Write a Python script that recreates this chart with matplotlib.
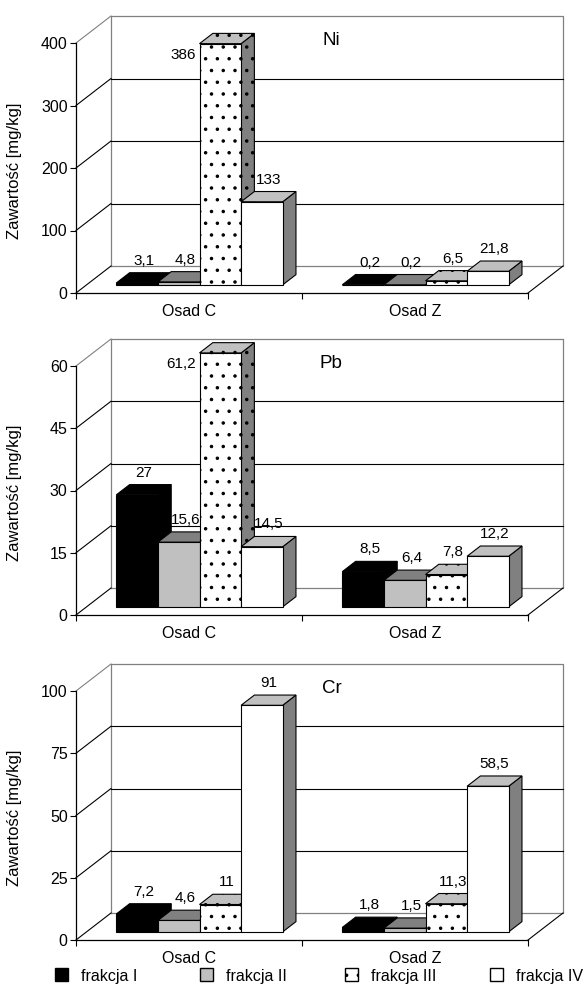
import matplotlib
matplotlib.use('Agg')
import matplotlib.pyplot as plt
from matplotlib.patches import Polygon, Rectangle

# the figure is rendered at a higher dpi so the dot hatch gets the sparser
# Excel-like spacing; all sizes in points are scaled back with S
DPI = 141.4
S = 100 / DPI

plt.rcParams['font.family'] = ['Liberation Sans', 'DejaVu Sans']
plt.rcParams['hatch.linewidth'] = 0.8 * S

# --- data ---
categories = ['Osad C', 'Osad Z']
series = ['frakcja I', 'frakcja II', 'frakcja III', 'frakcja IV']

ni_values = [[3.1, 4.8, 386, 133], [0.2, 0.2, 6.5, 21.8]]
pb_values = [[27, 15.6, 61.2, 14.5], [8.5, 6.4, 7.8, 12.2]]
cr_values = [[7.2, 4.6, 11, 91], [1.8, 1.5, 11.3, 58.5]]

ni_ticks = [0, 100, 200, 300, 400]
pb_ticks = [0, 15, 30, 45, 60]
cr_ticks = [0, 25, 50, 75, 100]

# --- styles ---
front_colors = ['black', '#c0c0c0', 'white', 'white']
top_colors = ['black', '#808080', '#c0c0c0', '#c0c0c0']
side_colors = ['black', '#606060', '#808080', '#808080']
hatches = [None, None, '..', None]
WALL = '#808080'

W, H = 585, 987
X_LEFT, X_RIGHT = 76, 528          # front floor, pixels
DEPTH_X, DEPTH_Y = 35, 27          # 3d depth offset, pixels
F0, F1 = 0.30, 0.68                # bar depth (fraction of floor depth)
BAR_W = 0.184                      # bar width in category units

fig = plt.figure(figsize=(W / DPI, H / DPI), dpi=DPI)


def fmt(v):
    return str(v).replace('.', ',')


def draw_panel(y_zero, y_top, values, ticks, title):
    ymax = ticks[-1]
    ax = fig.add_axes([X_LEFT / W, 1 - y_zero / H,
                       (X_RIGHT - X_LEFT) / W, (y_zero - y_top) / H])
    ax.set_xlim(0, len(categories))
    ax.set_ylim(0, ymax)
    ax.patch.set_visible(False)

    # depth offset in data units
    ddx = DEPTH_X * len(categories) / (X_RIGHT - X_LEFT)
    ddy = DEPTH_Y * ymax / (y_zero - y_top)
    xr = len(categories)
    lw = 0.8 * S

    # back wall
    ax.plot([ddx, ddx, xr + ddx, xr + ddx, ddx],
            [ddy, ymax + ddy, ymax + ddy, ddy, ddy],
            color=WALL, lw=0.9 * S, clip_on=False, zorder=1)
    for t in ticks:
        c = WALL if t == ymax else 'black'
        ax.plot([0, ddx], [t, t + ddy], color=c, lw=lw, clip_on=False, zorder=1)
        if 0 < t < ymax:
            ax.plot([ddx, xr + ddx], [t + ddy, t + ddy], color='black',
                    lw=lw, clip_on=False, zorder=1)
    ax.plot([xr, xr + ddx], [0, ddy], color='black', lw=lw,
            clip_on=False, zorder=1)

    # bars
    z = 3
    for g, group in enumerate(values):
        for i, v in enumerate(group):
            x0 = g + 0.5 + (i - 2) * BAR_W + F0 * ddx
            x1 = x0 + BAR_W
            b = F0 * ddy
            top = v + b
            bx = (F1 - F0) * ddx
            by = (F1 - F0) * ddy
            kw = dict(edgecolor='black', lw=lw, clip_on=False,
                      hatch=hatches[i])
            side = Polygon([(x1, b), (x1 + bx, b + by), (x1 + bx, top + by),
                            (x1, top)], facecolor=side_colors[i], zorder=z, **kw)
            topf = Polygon([(x0, top), (x0 + bx, top + by), (x1 + bx, top + by),
                            (x1, top)], facecolor=top_colors[i], zorder=z, **kw)
            front = Polygon([(x0, b), (x0, top), (x1, top), (x1, b)],
                            facecolor=front_colors[i], zorder=z + 1, **kw)
            for p in (side, topf, front):
                ax.add_patch(p)
            z += 2

            if v > 0.95 * ymax:
                ax.annotate(fmt(v), xy=(x0, top), xytext=(-4, -11),
                            textcoords='offset pixels', ha='right',
                            va='center', fontsize=11 * S, zorder=50,
                            annotation_clip=False)
            else:
                ax.annotate(fmt(v), xy=((x0 + x1) / 2 + bx / 2, top + by),
                            xytext=(0, 5), textcoords='offset pixels',
                            ha='center', va='bottom', fontsize=11 * S, zorder=50,
                            annotation_clip=False)

    # axes
    for s in ('top', 'right'):
        ax.spines[s].set_visible(False)
    for s in ('left', 'bottom'):
        ax.spines[s].set_linewidth(0.9 * S)
    ax.set_yticks(ticks)
    ax.set_yticklabels([str(t) for t in ticks], fontsize=11.5 * S)
    ax.tick_params(axis='y', direction='out', length=4 * S, width=lw, pad=2 * S)
    ax.set_xticks(range(len(categories) + 1))
    ax.set_xticklabels([''] * (len(categories) + 1))
    ax.tick_params(axis='x', which='major', direction='out', length=4 * S,
                   width=lw)
    ax.set_xticks([g + 0.5 for g in range(len(categories))], minor=True)
    ax.set_xticklabels(categories, minor=True, fontsize=11.5 * S)
    ax.tick_params(axis='x', which='minor', length=0, pad=8 * S)

    ax.set_ylabel('Zawartość [mg/kg]', fontsize=12 * S)
    ax.yaxis.set_label_coords(-0.119, 0.49)
    ax.text(0.565, 1.01, title, transform=ax.transAxes, fontsize=13.5 * S,
            ha='center', va='center')
    return ax


draw_panel(293, 43, ni_values, ni_ticks, 'Ni')
draw_panel(615, 366, pb_values, pb_ticks, 'Pb')
draw_panel(940, 691, cr_values, cr_ticks, 'Cr')

# legend, drawn by hand to get Excel-like even spacing
for i, name in enumerate(series):
    lx = 55 + i * 145
    fig.add_artist(Rectangle((lx / W, 1 - 981 / H), 13 / W, 13 / H,
                             facecolor=front_colors[i], edgecolor='black',
                             lw=1.0 * S, hatch=hatches[i],
                             transform=fig.transFigure))
    fig.text((lx + 26) / W, 1 - 977 / H, name, fontsize=11.5 * S, va='center')

fig.savefig('out.png', dpi=DPI)
